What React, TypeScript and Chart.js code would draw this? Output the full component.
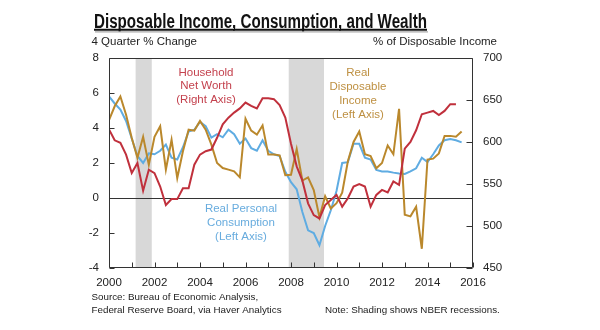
import { useEffect, useRef } from 'react';
import { Chart, registerables } from 'chart.js';

Chart.register(...registerables);

// Quarterly series, first observation 2000 Q1
const startYear = 2000;

// Real personal consumption, 4-quarter % change (left axis)
const consumptionGrowth = [
  5.8, 5.4, 5.05, 4.4, 3.4, 2.4, 2.0, 2.55, 2.5, 2.7,
  3.05, 2.3, 2.2, 2.9, 3.8, 3.9, 4.35, 4.1, 3.45, 3.65,
  3.47, 3.9, 3.65, 3.1, 3.4, 2.85, 2.7, 3.3, 2.7, 2.5,
  2.4, 1.5, 0.9, 0.5, -0.8, -1.85, -2.0, -2.7, -1.6, -0.7,
  0.4, 2.0, 2.05, 3.1, 3.1, 2.3, 2.2, 1.6, 1.52, 1.52,
  1.45, 1.4, 1.37, 1.52, 1.7, 2.3, 2.05, 2.5, 3.0, 3.3,
  3.37, 3.3, 3.18,
];

// Real disposable income, 4-quarter % change (left axis)
const incomeGrowth = [
  4.45, 5.24, 5.8, 4.76, 3.43, 2.3, 3.5, 1.9, 3.5, 4.1,
  1.62, 3.33, 1.14, 2.67, 3.9, 3.85, 4.4, 3.9, 3.05, 2.0,
  1.71, 1.62, 1.52, 1.18, 4.53, 3.85, 3.62, 4.15, 2.48, 2.48,
  2.44, 1.3, 1.33, 2.8, 1.0, 1.18, 0.45, -1.1, 0.1, -0.6,
  -0.3, 0.3, 2.1, 3.2, 3.8, 2.5, 2.4, 1.7, 2.0, 3.0,
  2.5, 5.1, -0.95, -1.05, -0.5, -2.9, 2.2, 2.25, 2.55, 3.55,
  3.55, 3.5, 3.8,
];

// Household net worth, % of disposable income (right axis)
const netWorthRatio = [
  615, 602, 599, 585, 563, 575, 542, 567, 563, 547,
  525, 532, 532, 545, 545, 573, 585, 589, 591, 605,
  621, 629, 635, 640, 647, 643, 640, 652, 652, 651,
  644, 629, 598, 571, 554, 527, 513, 509, 525, 531,
  537, 523, 533, 547, 550, 547, 523, 537, 543, 540,
  553, 549, 592, 600, 614, 633, 635, 637, 632, 637,
  645, 645,
];

// NBER recessions (start, end) in fractional years
const recessions: [number, number][] = [
  [2001.17, 2001.88],
  [2007.9, 2009.45],
];

const leftTickValues = [-4, -2, 0, 2, 4, 6, 8];
const rightTickValues = [450, 500, 550, 600, 650, 700];
const yearTicks = [2000, 2001, 2002, 2003, 2004, 2005, 2006, 2007, 2008, 2009, 2010, 2011, 2012, 2013, 2014, 2015, 2016];

const titleText = 'Disposable Income, Consumption, and Wealth';
const leftAxisTitle = '4 Quarter % Change';
const rightAxisTitle = '% of Disposable Income';
const sourceLines = ['Source: Bureau of Economic Analysis,', 'Federal Reserve Board, via Haver Analytics'];
const noteText = 'Note: Shading shows NBER recessions.';
const netWorthLabel = ['Household', 'Net Worth', '(Right Axis)'];
const incomeLabel = ['Real', 'Disposable', 'Income', '(Left Axis)'];
const consumptionLabel = ['Real Personal', 'Consumption', '(Left Axis)'];

const FONT = '"Liberation Sans", Arial, Helvetica, sans-serif';
const RED = 'rgb(192,48,60)';
const GOLD = 'rgb(186,136,44)';
const BLUE = 'rgb(95,172,226)';
const RED_TEXT = 'rgb(196,66,78)';
const GOLD_TEXT = 'rgb(190,144,66)';
const BLUE_TEXT = 'rgb(104,172,222)';
const FRAME = '#333';

const toPoints = (arr: number[]) => arr.map((y, i) => ({ x: startYear + i / 4, y }));

const decorPlugin = {
  id: 'decor',
  beforeDatasetsDraw(chart: any) {
    const { ctx, chartArea: a, scales } = chart;
    const xs = scales.x;
    const yl = scales.y;
    ctx.save();
    ctx.fillStyle = 'rgb(216,216,216)';
    recessions.forEach(([s, e]) => {
      const x0 = xs.getPixelForValue(s);
      const x1 = xs.getPixelForValue(e);
      ctx.fillRect(x0, a.top, x1 - x0, a.bottom - a.top);
    });
    const y0 = Math.round(yl.getPixelForValue(0)) + 0.5;
    ctx.strokeStyle = '#333';
    ctx.lineWidth = 1;
    ctx.beginPath();
    ctx.moveTo(a.left, y0);
    ctx.lineTo(a.right, y0);
    ctx.stroke();
    ctx.restore();
  },
  afterDatasetsDraw(chart: any) {
    const { ctx, chartArea: a, scales } = chart;
    const L = Math.round(a.left) + 0.5;
    const R = Math.round(a.right) - 0.5;
    const T = Math.round(a.top) + 0.5;
    const B = Math.round(a.bottom) - 0.5;
    ctx.save();
    ctx.strokeStyle = FRAME;
    ctx.lineWidth = 1;
    ctx.beginPath();
    ctx.rect(L, T, R - L, B - T);
    // inward ticks
    yearTicks.forEach((yr) => {
      const px = Math.round(scales.x.getPixelForValue(yr)) + 0.5;
      ctx.moveTo(px, B);
      ctx.lineTo(px, B - 5);
    });
    leftTickValues.forEach((v) => {
      const py = Math.round(scales.y.getPixelForValue(v)) + 0.5;
      ctx.moveTo(L, py);
      ctx.lineTo(L + 5, py);
    });
    rightTickValues.forEach((v) => {
      const py = Math.round(scales.yR.getPixelForValue(v)) + 0.5;
      ctx.moveTo(R, py);
      ctx.lineTo(R - 6, py);
    });
    ctx.stroke();
    ctx.restore();
  },
  afterDraw(chart: any) {
    const { ctx } = chart;
    ctx.save();
    // title, bold condensed, underlined
    ctx.font = `bold 20px ${FONT}`;
    const w = ctx.measureText(titleText).width;
    const targetW = 333;
    ctx.save();
    ctx.translate(94, 27.5);
    ctx.scale(targetW / w, 1);
    ctx.fillStyle = '#111';
    ctx.textBaseline = 'alphabetic';
    ctx.textAlign = 'left';
    ctx.fillText(titleText, 0, 0);
    ctx.restore();
    ctx.strokeStyle = '#aaa';
    ctx.lineWidth = 1.2;
    ctx.beginPath();
    ctx.moveTo(95, 31.8);
    ctx.lineTo(94 + targetW + 1, 31.8);
    ctx.stroke();
    ctx.strokeStyle = '#111';
    ctx.lineWidth = 2;
    ctx.beginPath();
    ctx.moveTo(94, 29.7);
    ctx.lineTo(94 + targetW, 29.7);
    ctx.stroke();

    // axis titles
    ctx.fillStyle = '#222';
    ctx.font = `11.5px ${FONT}`;
    ctx.textBaseline = 'middle';
    ctx.textAlign = 'left';
    ctx.fillText(leftAxisTitle, 91.5, 42);
    ctx.textAlign = 'right';
    ctx.fillText(rightAxisTitle, 497, 42);

    // footer
    ctx.font = `9.8px ${FONT}`;
    ctx.textAlign = 'left';
    ctx.fillText(sourceLines[0], 91.5, 297);
    ctx.fillText(sourceLines[1], 91.5, 310.5);
    ctx.fillText(noteText, 325, 310.5);

    // series labels
    ctx.font = `11.5px ${FONT}`;
    ctx.textAlign = 'center';
    ctx.fillStyle = RED_TEXT;
    netWorthLabel.forEach((t, i) => ctx.fillText(t, 206, 72.5 + i * 13.6));
    ctx.fillStyle = GOLD_TEXT;
    incomeLabel.forEach((t, i) => ctx.fillText(t, 358, 73.3 + i * 13.8));
    ctx.fillStyle = BLUE_TEXT;
    consumptionLabel.forEach((t, i) => ctx.fillText(t, 241, 209.3 + i * 13.7));
    ctx.restore();
  },
};

export default function App() {
  const canvasRef = useRef<HTMLCanvasElement | null>(null);

  useEffect(() => {
    const canvas = canvasRef.current;
    if (!canvas) return;
    const tickFont = { family: FONT, size: 11.5 };
    const chart = new Chart(canvas, {
      type: 'line',
      data: {
        datasets: [
          {
            label: 'Household Net Worth',
            data: toPoints(netWorthRatio),
            yAxisID: 'yR',
            borderColor: RED,
            borderWidth: 2,
            pointRadius: 0,
            tension: 0,
            fill: false,
          },
          {
            label: 'Real Disposable Income',
            data: toPoints(incomeGrowth),
            yAxisID: 'y',
            borderColor: GOLD,
            borderWidth: 2,
            pointRadius: 0,
            tension: 0,
            fill: false,
          },
          {
            label: 'Real Personal Consumption',
            data: toPoints(consumptionGrowth),
            yAxisID: 'y',
            borderColor: BLUE,
            borderWidth: 2,
            pointRadius: 0,
            tension: 0,
            fill: false,
          },
        ],
      },
      options: {
        responsive: false,
        maintainAspectRatio: false,
        animation: false,
        layout: { padding: { top: 58, left: 0, right: 0, bottom: 0 } },
        plugins: {
          legend: { display: false },
          tooltip: { enabled: false },
        },
        scales: {
          x: {
            type: 'linear',
            min: 2000,
            max: 2016,
            grid: { display: false, drawTicks: false },
            border: { display: false },
            ticks: {
              stepSize: 2,
              autoSkip: false,
              maxRotation: 0,
              padding: 8,
              color: '#222',
              font: tickFont,
              callback: (v: any) => String(v),
            },
            afterFit: (s: any) => {
              s.height = 62;
            },
          },
          y: {
            type: 'linear',
            position: 'left',
            min: -4,
            max: 8,
            grid: { display: false, drawTicks: false },
            border: { display: false },
            ticks: { stepSize: 2, padding: 10, color: '#222', font: tickFont },
            afterFit: (s: any) => {
              s.width = 109;
            },
          },
          yR: {
            type: 'linear',
            position: 'right',
            min: 450,
            max: 700,
            grid: { display: false, drawTicks: false },
            border: { display: false },
            ticks: { stepSize: 50, padding: 10, color: '#222', font: tickFont },
            afterFit: (s: any) => {
              s.width = 127;
            },
          },
        },
      },
      plugins: [decorPlugin],
    } as any);
    return () => chart.destroy();
  }, []);

  return (
    <div style={{ position: 'fixed', left: 0, top: 0, width: 600, height: 330, background: '#fff' }}>
      <canvas ref={canvasRef} width={600} height={330} style={{ width: 600, height: 330, display: 'block' }} />
    </div>
  );
}
